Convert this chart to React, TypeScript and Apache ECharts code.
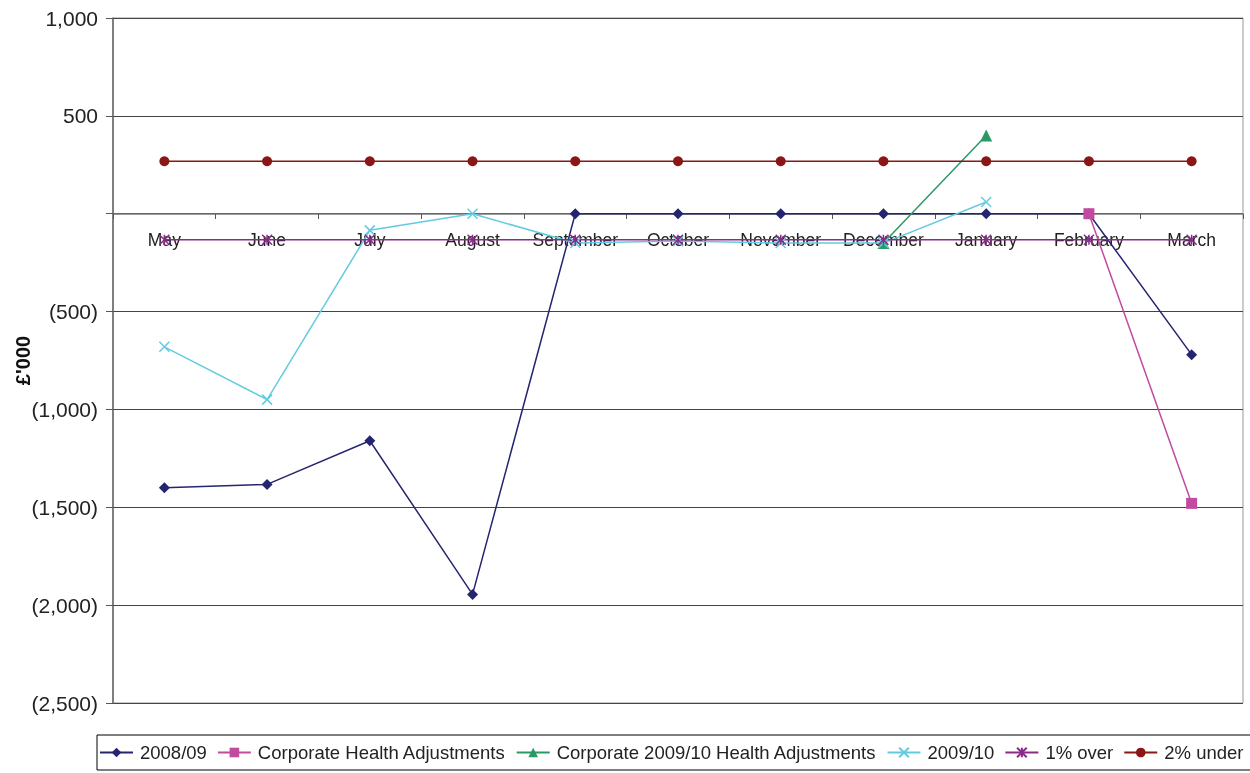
import React, { useEffect, useRef } from "react";
import * as echarts from "echarts";

const months = ["May", "June", "July", "August", "September", "October", "November", "December", "January", "February", "March"];
const s200809 = [-1400, -1383, -1160, -1945, 0, 0, 0, 0, 0, 0, -720];
const corpHealth = [null, null, null, null, null, null, null, null, null, 0, -1480];
const corp0910 = [null, null, null, null, null, null, null, -150, 400, null, null];
const s200910 = [-680, -950, -85, 0, -150, -140, -150, -150, 60, null, null];
const onePctOver = [-133, -133, -133, -133, -133, -133, -133, -133, -133, -133, -133];
const twoPctUnder = [268, 268, 268, 268, 268, 268, 268, 268, 268, 268, 268];
const yTicks = { min: -2500, max: 1000, interval: 500 };

const XPATH = "path://M0,0L10,10M10,0L0,10";
const STARPATH = "path://M5,0L5,10M0,0L10,10M10,0L0,10";

export default function App() {
  const ref = useRef<HTMLDivElement>(null);
  useEffect(() => {
    const chart = echarts.init(ref.current!, undefined, { renderer: "svg" });
    const font = "'Liberation Sans', Arial, sans-serif";
    const gridTop = 18;
    const gridBottom = 70;
    const plotH = 773 - gridTop - gridBottom;
    const zeroOffset = -Math.round(plotH * (0 - yTicks.min) / (yTicks.max - yTicks.min));
    const mk = (name: string, data: any[], color: string, symbol: string, size: number, stroke = false) => ({
      name,
      type: "line",
      data,
      symbol,
      symbolSize: size,
      connectNulls: false,
      lineStyle: { color, width: 1.5 },
      itemStyle: stroke ? { color, borderColor: color, borderWidth: 1.5 } : { color },
      emphasis: { disabled: true },
    });
    chart.setOption({
      animation: false,
      textStyle: { fontFamily: font },
      grid: {
        left: 113, right: 7, top: gridTop, bottom: gridBottom,
        containLabel: false, outerBoundsMode: "none",
        show: true, borderColor: "#999", borderWidth: 1,
      },
      legend: {
        left: 97,
        top: 735,
        width: 3000,
        padding: [8, 14, 8, 2],
        itemWidth: 33,
        itemHeight: 12,
        itemGap: 10,
        borderColor: "#000",
        borderWidth: 1,
        textStyle: { fontSize: 18.5, color: "#222", fontFamily: font, padding: [0, 0, 0, 2] },
      },
      xAxis: {
        type: "category",
        data: months,
        boundaryGap: true,
        position: "bottom",
        offset: zeroOffset,
        axisLine: { onZero: false, lineStyle: { color: "#777", width: 1.5 } },
        axisTick: { show: true, length: 5, lineStyle: { color: "#555" } },
        axisLabel: { fontSize: 17.5, color: "#222", margin: 17, interval: 0 },
        splitLine: { show: false },
      },
      yAxis: {
        type: "value",
        min: yTicks.min,
        max: yTicks.max,
        interval: yTicks.interval,
        name: "£'000",
        nameLocation: "middle",
        nameGap: 80,
        nameMoveOverlap: false,
        nameTextStyle: { fontSize: 20, fontWeight: "bold", color: "#111", fontFamily: font },
        axisLine: { show: true, lineStyle: { color: "#666", width: 1.5 } },
        axisTick: { show: true, length: 7, lineStyle: { color: "#555" } },
        axisLabel: {
          fontSize: 21,
          color: "#222",
          margin: 15,
          formatter: (v: number) =>
            v === 0 ? "" : v < 0 ? `(${Math.abs(v).toLocaleString("en-US")})` : v.toLocaleString("en-US"),
        },
        splitLine: { show: true, lineStyle: { color: "#444", width: 1 } },
      },
      series: [
        mk("2008/09", s200809, "#25256f", "diamond", 11),
        mk("Corporate Health Adjustments", corpHealth, "#c24a9f", "rect", 11),
        mk("Corporate 2009/10 Health Adjustments", corp0910, "#2a9a64", "triangle", 12),
        mk("2009/10", s200910, "#63cbe0", XPATH, 10, true),
        mk("1% over", onePctOver, "#8a2b8a", STARPATH, 10, true),
        mk("2% under", twoPctUnder, "#8a1616", "circle", 10),
      ],
    });
    return () => chart.dispose();
  }, []);
  return <div ref={ref} style={{ position: "fixed", left: 0, top: 0, width: 1250, height: 773 }} />;
}
